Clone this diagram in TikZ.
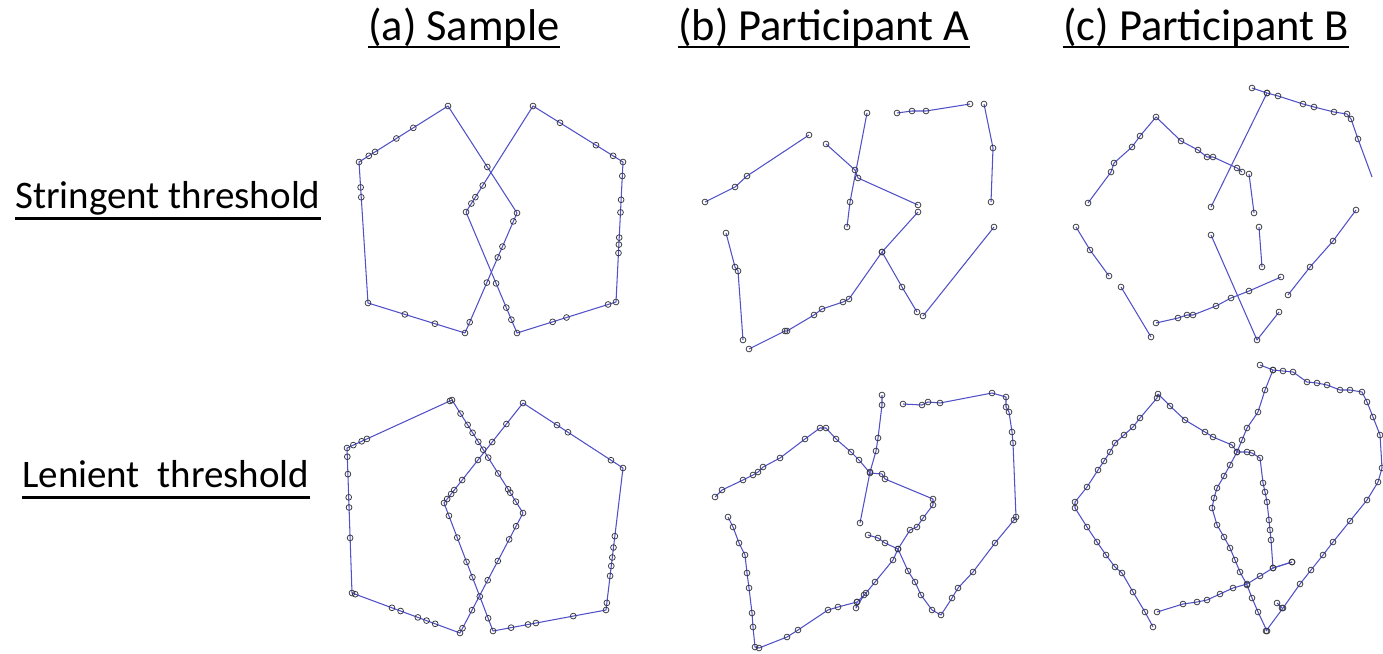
\documentclass[tikz,border=0pt]{standalone}
\usepackage{fontspec}
\setmainfont{Carlito}
\usetikzlibrary{calc,plotmarks}

\definecolor{penblue}{RGB}{80,80,200}
\definecolor{dotgray}{RGB}{55,55,65}

\tikzset{
  trace/.style={penblue, line width=1.05pt, line join=round},
  dotc/.style={dotgray, line width=0.75pt},
  heading/.style={inner sep=0pt, anchor=base west, font=\fontsize{44.5}{50}\selectfont},
  rowlabel/.style={inner sep=0pt, anchor=base west, font=\fontsize{39}{44}\selectfont},
  uline/.style={black, line width=2.6pt}
}

% dots placed at fractions along a straight edge
\newcommand\dotsalong[3]{\foreach \t in {#3}{\draw[dotc] ($(#1)!\t!(#2)$) circle[radius=2.9pt];}}
% dots on a list of named vertices
\newcommand\vertexdots[1]{\foreach \v in {#1}{\draw[dotc] (\v) circle[radius=2.9pt];}}
% a pen stroke through sampled points, each sample marked by a circle
\newcommand\penstroke[1]{\draw[trace] plot coordinates {#1};
  \draw[dotc] plot[only marks, mark=o, mark size=2.9pt] coordinates {#1};}

\begin{document}
\begin{tikzpicture}[x=1pt,y=-1pt]
\useasboundingbox[fill=white] (0,0) rectangle (1383,653);

% ---------------- headings ----------------
\node[heading] (ha) at (368,40) {(a) Sample};
\node[heading] (hb) at (678,40) {(b) Participant A};
\node[heading] (hc) at (1063,40) {(c) Participant B};
\node[rowlabel] (rs) at (15,208) {Stringent threshold};
\node[rowlabel] (rl) at (22,487) {Lenient\ \ threshold};
\foreach \n in {ha,hb,hc}
  \draw[uline] ([yshift=-7pt]\n.base west) -- ([yshift=-7pt]\n.base east);
\foreach \n in {rs,rl}
  \draw[uline] ([yshift=-10.5pt]\n.base west) -- ([yshift=-10.5pt]\n.base east);

% ---------------- (a) sample, stringent ----------------
\coordinate (sLt) at (448,106); \coordinate (sLul) at (359,162);
\coordinate (sLll) at (368,303); \coordinate (sLb) at (465,333);
\coordinate (sLr) at (517,213);
\coordinate (sRt) at (533,106); \coordinate (sRru) at (623,162);
\coordinate (sRrl) at (616,302); \coordinate (sRb) at (517,333);
\coordinate (sRl) at (466,212);
\draw[trace] (sLt) -- (sLul) -- (sLll) -- (sLb) -- (sLr) -- cycle;
\draw[trace] (sRt) -- (sRru) -- (sRrl) -- (sRb) -- (sRl) -- cycle;
\vertexdots{sLt,sLul,sLll,sLb,sLr,sRt,sRru,sRrl,sRb,sRl}
\dotsalong{sLt}{sLul}{.39,.58,.82,.89}
\dotsalong{sLul}{sLll}{.18,.25}
\dotsalong{sLll}{sLb}{.38,.69}
\dotsalong{sLb}{sLr}{.09,.42,.63,.72,.93}
\dotsalong{sLr}{sLt}{.43}
\dotsalong{sRt}{sRru}{.3,.7,.89}
\dotsalong{sRru}{sRrl}{.1,.27,.36,.54,.59,.65}
\dotsalong{sRrl}{sRb}{.08,.5,.64}
\dotsalong{sRb}{sRl}{.11,.21,.41}
\dotsalong{sRl}{sRt}{.08,.14,.25}

% ---------------- (a) sample, lenient ----------------
\coordinate (lLt) at (452,400); \coordinate (lLul) at (347,448);
\coordinate (lLll) at (352,593); \coordinate (lLb) at (460,633);
\coordinate (lLr) at (523,513);
\coordinate (lRt) at (523,403); \coordinate (lRru) at (623,468);
\coordinate (lRrl) at (606,610); \coordinate (lRb) at (493,631);
\coordinate (lRl) at (444,503);
\draw[trace] (lLt) -- (lLul) -- (lLll) -- (lLb) -- (lLr) -- cycle;
\draw[trace] (lRt) -- (lRru) -- (lRrl) -- (lRb) -- (lRl) -- cycle;
\vertexdots{lLt,lLul,lLll,lLb,lLr,lRt,lRru,lRrl,lRb,lRl}
\dotsalong{lLt}{lLul}{.02,.81,.86,.94}
\dotsalong{lLul}{lLll}{.06,.18,.34,.41,.62}
\dotsalong{lLll}{lLb}{.03,.37,.45,.61,.69,.77}
\dotsalong{lLb}{lLr}{.04,.19,.44,.6,.78,.89}
\dotsalong{lLr}{lLt}{.1,.18,.21,.35,.49,.56,.63,.71,.78,.88}
\dotsalong{lRt}{lRru}{.34,.45,.88}
\dotsalong{lRru}{lRrl}{.48,.56,.63,.69,.76,.95}
\dotsalong{lRrl}{lRb}{.29,.62,.69,.84}
\dotsalong{lRb}{lRl}{.1,.27,.42,.54,.73,.9}
\dotsalong{lRl}{lRt}{.04,.09,.13,.23,.43,.61,.79}

% ---------------- (b) participant A, stringent ----------------
\penstroke{(705,202) (735,187) (747,176) (809,135)}
\penstroke{(867,113) (850,202) (847,227)}
\penstroke{(826,144) (855,170) (858,178) (918,205)}
\penstroke{(897,113) (912,111) (926,111) (970,104)}
\penstroke{(984,104) (993,148) (991,202)}
\penstroke{(994,227) (923,316)}
\penstroke{(726,233) (735,267) (738,271) (743,340)}
\penstroke{(749,349) (785,331) (787,331) (814,315) (822,309) (843,302) (849,299) (882,252) (918,212)}
\penstroke{(882,252) (902,287) (917,312)}

% ---------------- (c) participant B, stringent ----------------
\penstroke{(1252,88) (1267,93) (1278,96) (1303,104) (1314,107) (1334,112) (1347,114) (1351,119) (1358,139)}
\draw[trace] (1358,139) -- (1372,177);
\penstroke{(1267,93) (1211,207)}
\penstroke{(1088,203) (1111,172) (1114,163) (1132,147) (1140,136) (1156,117) (1181,141) (1198,150) (1207,157) (1213,157) (1237,168) (1242,172)}
\penstroke{(1249,174) (1254,213)}
\penstroke{(1259,227) (1262,267)}
\penstroke{(1076,227) (1090,250) (1109,276)}
\penstroke{(1121,287) (1151,337)}
\penstroke{(1211,235) (1257,340) (1279,312)}
\penstroke{(1156,323) (1178,318) (1187,315) (1193,315) (1216,306) (1231,298) (1249,291) (1281,277)}
\penstroke{(1288,295) (1310,267) (1333,241) (1356,210)}

% ---------------- (b) participant A, lenient ----------------
\penstroke{(715,497) (722,490) (743,480) (753,475) (758,472) (763,467) (780,458) (805,439) (820,428) (826,428) (836,439) (851,452) (859,460) (870,473) (882,474) (885,479) (933,499) (933,505) (923,518) (917,527) (910,530) (898,549) (893,560) (875,582) (866,593) (857,602) (838,607) (828,610) (798,630) (787,637) (759,648) (755,647) (753,627) (752,613) (749,588) (747,573) (745,555) (739,543) (733,527) (728,517)}
\penstroke{(882,395) (882,405) (878,438) (876,451) (870,472) (860,523)}
\penstroke{(868,535) (878,538) (885,543) (898,549) (908,571) (915,582) (921,595) (932,610) (941,615) (952,598) (958,588) (973,572) (995,543) (1014,520) (1016,517) (1013,443) (1012,432) (1009,412) (1006,407) (1006,397) (992,393) (940,403) (928,402) (922,405) (903,404)}
\penstroke{(857,602) (856,608) (864,595)}

% ---------------- (c) participant B, lenient ----------------
\penstroke{(1153,627) (1145,612) (1133,592) (1122,573) (1115,567) (1106,555) (1097,542) (1087,527) (1075,508) (1075,502) (1087,487) (1098,470) (1104,461) (1110,452) (1115,443) (1124,435) (1133,427) (1140,418) (1157,398) (1158,394) (1170,406) (1185,420) (1205,432) (1213,437) (1232,445) (1237,452) (1247,452) (1252,453) (1260,458) (1263,483) (1265,492) (1267,502) (1269,520) (1270,530) (1271,540) (1273,568) (1292,562)}
\penstroke{(1260,365) (1273,370) (1283,371) (1293,372) (1307,382) (1317,383) (1327,385) (1340,390) (1350,390) (1362,392) (1367,402) (1373,417) (1380,435) (1382,468) (1378,482) (1367,500) (1350,521) (1333,542) (1323,555) (1311,570) (1300,584) (1283,608) (1266,631)}
\penstroke{(1273,370) (1265,390) (1258,412) (1247,428) (1242,440) (1237,452) (1230,465) (1224,476) (1217,488) (1214,498) (1212,508) (1217,525) (1224,537) (1230,548) (1235,560) (1240,572) (1247,585) (1252,598) (1258,612) (1267,631)}
\penstroke{(1157,612) (1183,604) (1197,602) (1207,600) (1220,594) (1233,588) (1247,584) (1260,576) (1273,568) (1292,562)}
\penstroke{(1277,603) (1282,608)}
\end{tikzpicture}
\end{document}
